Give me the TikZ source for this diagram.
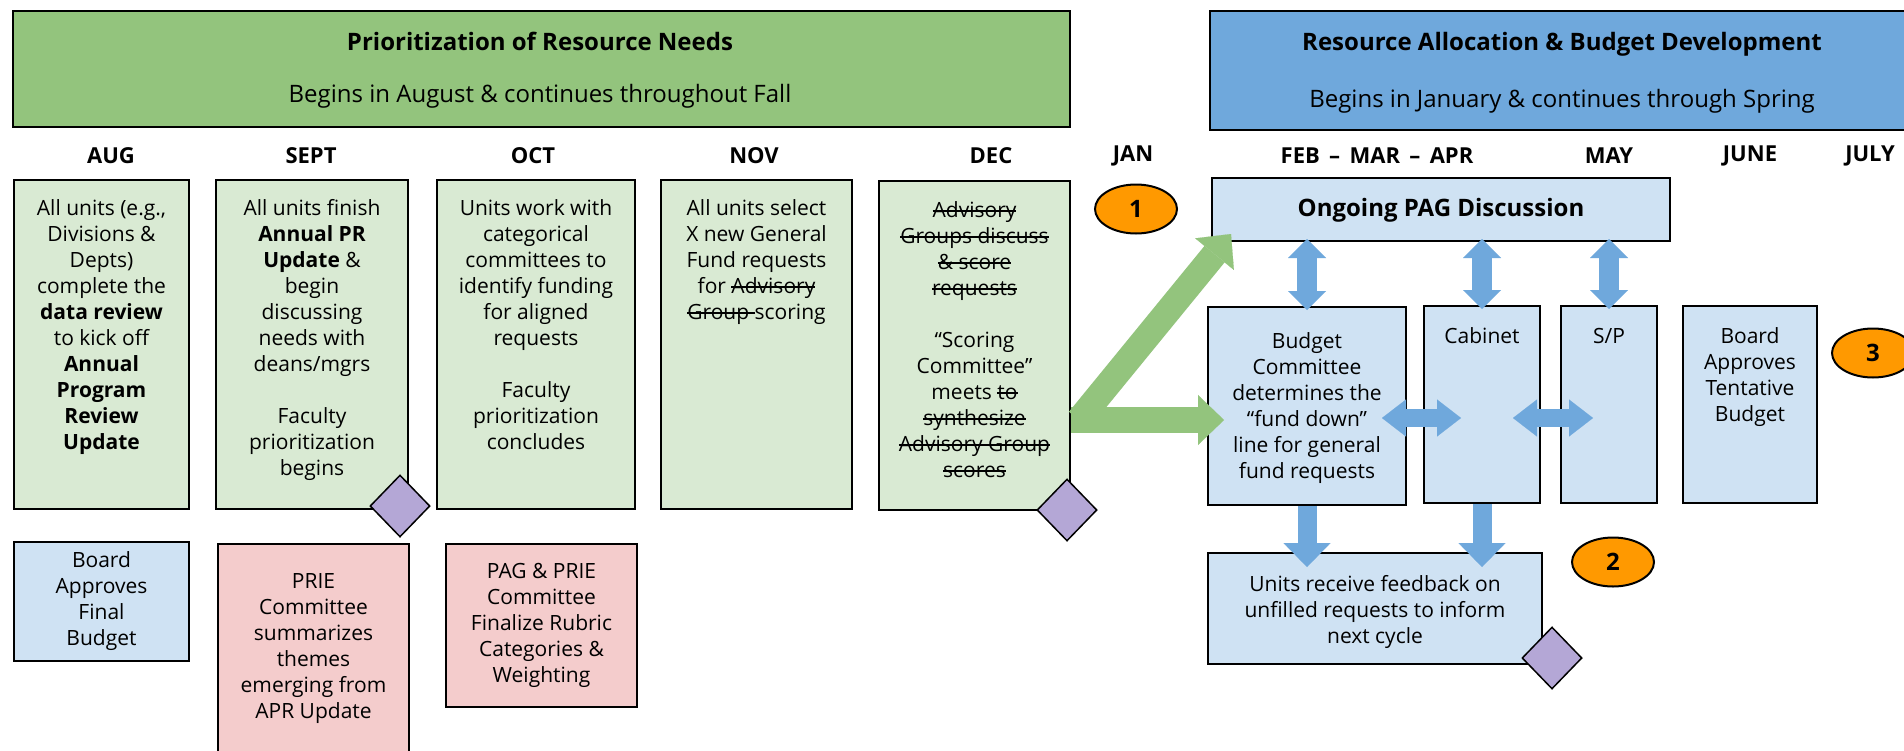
\documentclass[tikz,border=0pt]{standalone}
\usepackage{fontspec}
\setmainfont{Open Sans}
\usetikzlibrary{arrows.meta,shapes.geometric}
\newsavebox\strkbox
\newcommand\strk[1]{\sbox\strkbox{#1}\rlap{\usebox\strkbox}\rule[0.27em]{\wd\strkbox}{1.5pt}}
\definecolor{hdrgreen}{HTML}{93C47D}
\definecolor{hdrblue}{HTML}{6FA8DC}
\definecolor{lgreen}{HTML}{D9EAD3}
\definecolor{lblue}{HTML}{CFE2F3}
\definecolor{lpink}{HTML}{F4CCCC}
\definecolor{lpurple}{HTML}{B4A7D6}
\definecolor{orng}{HTML}{FF9900}
\tikzset{
  box/.style={draw=black, line width=2pt, inner sep=0pt, anchor=north west},
  gbox/.style={box, fill=lgreen},
  bbox/.style={box, fill=lblue},
  pbox/.style={box, fill=lpink},
  body/.style={font=\fontsize{21}{26}\selectfont, align=center, inner sep=0pt},
  toptext/.style={body, anchor=north},
  hdrtitle/.style={font=\fontsize{24}{28}\selectfont\bfseries, inner sep=0pt},
  hdrsub/.style={font=\fontsize{24}{28}\selectfont, inner sep=0pt},
  month/.style={font=\fontsize{22}{26}\selectfont\bfseries, inner sep=0pt},
  gem/.style={diamond, draw=black, line width=1.5pt, fill=lpurple, minimum width=60pt, minimum height=62pt, inner sep=0pt},
  badge/.style={ellipse, draw=black, line width=2pt, fill=orng, minimum width=82pt, minimum height=49pt, inner sep=0pt, font=\fontsize{24}{28}\selectfont\bfseries},
  garrow/.style={draw=hdrgreen, line width=26pt, arrows={-Triangle[length=26pt,width=50pt,line width=0.1pt]}},
  vdbl/.style={draw=hdrblue, line width=20pt, arrows={Triangle[length=19pt,width=38pt,line width=0.1pt]-Triangle[length=19pt,width=38pt,line width=0.1pt]}},
  hdbl/.style={draw=hdrblue, line width=18pt, arrows={Triangle[length=24pt,width=37pt,line width=0.1pt]-Triangle[length=24pt,width=37pt,line width=0.1pt]}},
  darrow/.style={draw=hdrblue, line width=19pt, arrows={-Triangle[length=24pt,width=47pt,line width=0.1pt]}},
}
\begin{document}
\begin{tikzpicture}[x=1pt,y=-1pt]
\useasboundingbox (0,0) rectangle (1904,750);
\fill[white] (0,0) rectangle (1904,750);

% headers
\node[box, fill=hdrgreen, minimum width=1057pt, minimum height=116pt] (hg) at (12,10) {};
\node[hdrtitle] (hgt) at (540,41) {Prioritization of Resource Needs};
\node[hdrsub] (hgs) at (540,96) {Begins in August \& continues throughout Fall};
\node[box, fill=hdrblue, minimum width=720pt, minimum height=119pt] (hb) at (1209,10) {};
\node[hdrtitle] (hbt) at (1562,44) {Resource Allocation \& Budget Development};
\node[hdrsub] (hbs) at (1562,101) {Begins in January \& continues through Spring};

% months
\node[month] (mAug) at (111,156) {AUG};
\node[month] (mSep) at (311,156) {SEPT};
\node[month] (mOct) at (533,156) {OCT};
\node[month] (mNov) at (754,156) {NOV};
\node[month] (mDec) at (991,156) {DEC};
\node[month] (mJan) at (1133,156) {JAN};
\node[month] (mFeb) at (1377,156) {FEB \,–\, MAR \,–\, APR};
\node[month] (mMay) at (1609,156) {MAY};
\node[month] (mJun) at (1750,156) {JUNE};
\node[month] (mJul) at (1870,156) {JULY};

% fall boxes
\node[gbox, minimum width=175pt, minimum height=329pt] (aug) at (13,179) {};
\node[gbox, minimum width=192pt, minimum height=329pt] (sep) at (215,179) {};
\node[gbox, minimum width=198pt, minimum height=329pt] (oct) at (436,179) {};
\node[gbox, minimum width=191pt, minimum height=329pt] (nov) at (660,179) {};
\node[gbox, minimum width=191pt, minimum height=329pt] (dec) at (878,180) {};

\node[toptext] (augt) at ([yshift=-18pt]aug.north) {\strut All units (e.g.,\\ Divisions \&\\ Depts)\\ complete the\\ \textbf{data review}\\ to kick off\\ \textbf{Annual}\\ \textbf{Program}\\ \textbf{Review}\\ \textbf{Update}};
\node[toptext] (sept) at ([yshift=-18pt]sep.north) {\strut All units finish\\ \textbf{Annual PR}\\ \textbf{Update} \&\\ begin\\ discussing\\ needs with\\ deans/mgrs\\[26pt] Faculty\\ prioritization\\ begins};
\node[toptext] (octt) at ([yshift=-18pt]oct.north) {\strut Units work with\\ categorical\\ committees to\\ identify funding\\ for aligned\\ requests\\[26pt] Faculty\\ prioritization\\ concludes};
\node[toptext] (novt) at ([yshift=-18pt]nov.north) {\strut All units select\\ X new General\\ Fund requests\\ for \strk{Advisory}\\ \strk{Group\ }scoring};
\node[toptext] (dect) at ([yshift=-19pt]dec.north) {\strut\strk{Advisory}\\ \strk{Groups discuss}\\ \strk{\& score}\\ \strk{requests}\\[26pt] “Scoring\\ Committee”\\ meets \strk{to}\\ \strk{synthesize}\\ \strk{Advisory Group}\\ \strk{scores}};

% lower-left boxes
\node[bbox, minimum width=175pt, minimum height=119pt] (bfin) at (13,541) {};
\node[body] (bfint) at (bfin.center) {Board\\ Approves\\ Final\\ Budget};
\node[pbox, minimum width=191pt, minimum height=210pt] (prie) at (217,543) {};
\node[body] (priet) at (prie.center) {PRIE\\ Committee\\ summarizes\\ themes\\ emerging from\\ APR Update};
\node[pbox, minimum width=191pt, minimum height=163pt] (pagp) at (445,543) {};
\node[body] (pagpt) at (pagp.center) {PAG \& PRIE\\ Committee\\ Finalize Rubric\\ Categories \&\\ Weighting};

% spring boxes
\node[bbox, minimum width=458pt, minimum height=63pt] (pag) at (1211,177) {};
\node[font=\fontsize{24}{28}\selectfont\bfseries, inner sep=0pt] (pagt) at ([yshift=-1pt]pag.center) {Ongoing PAG Discussion};
\node[bbox, minimum width=198pt, minimum height=198pt] (bc) at (1207,306) {};
\node[body] (bct) at ([yshift=-2pt]bc.center) {Budget\\ Committee\\ determines the\\ “fund down”\\ line for general\\ fund requests};
\node[bbox, minimum width=116pt, minimum height=197pt] (cab) at (1423,305) {};
\node[toptext] (cabt) at ([yshift=-20pt]cab.north) {\strut Cabinet};
\node[bbox, minimum width=96pt, minimum height=197pt] (sp) at (1560,305) {};
\node[toptext] (spt) at ([yshift=-20pt]sp.north) {\strut S/P};
\node[bbox, minimum width=134pt, minimum height=197pt] (brd) at (1682,305) {};
\node[toptext] (brdt) at ([yshift=-20pt]brd.north) {\strut Board\\ Approves\\ Tentative\\ Budget};
\node[bbox, minimum width=334pt, minimum height=111pt] (units) at (1207,552) {};
\node[body] (unitst) at ([yshift=-3pt]units.center) {Units receive feedback on\\ unfilled requests to inform\\ next cycle};

% blue arrows
\coordinate (hrow) at (1400,418);
\draw[vdbl, shorten <=-3pt, shorten >=-4pt] (pag.south -| bc.north) -- (bc.north);
\draw[vdbl, shorten <=-3pt, shorten >=-4pt] (pag.south -| cab.north) -- (cab.north);
\draw[vdbl, shorten <=-3pt, shorten >=-4pt] (pag.south -| sp.north) -- (sp.north);
\draw[hdbl, shorten <=-25pt, shorten >=-38pt] (bc.east |- hrow) -- (cab.west |- hrow);
\draw[hdbl, shorten <=-28pt, shorten >=-33pt] (cab.east |- hrow) -- (sp.west |- hrow);
\draw[darrow, shorten >=-15pt] (bc.south) -- (units.north -| bc.south);
\draw[darrow, shorten >=-15pt] (cab.south) -- (units.north -| cab.south);

% green arrows
\coordinate (grow) at (1100,420);
\coordinate (gtail) at (1079,420);
\coordinate (gtip) at ([xshift=20pt,yshift=8pt]pag.south west);
\draw[garrow, shorten >=-17pt] (dec.east |- grow) -- (bc.west |- grow);
\draw[garrow] (gtail) -- (gtip);

% diamonds
\node[gem] (d1) at (400,506) {};
\node[gem] (d2) at (1067,510) {};
\node[gem] (d3) at (1552,658) {};

% badges
\node[badge] (b1) at (1136,209) {1};
\node[badge] (b2) at (1613,562) {2};
\node[badge] (b3) at (1873,353) {3};
\end{tikzpicture}
\end{document}
